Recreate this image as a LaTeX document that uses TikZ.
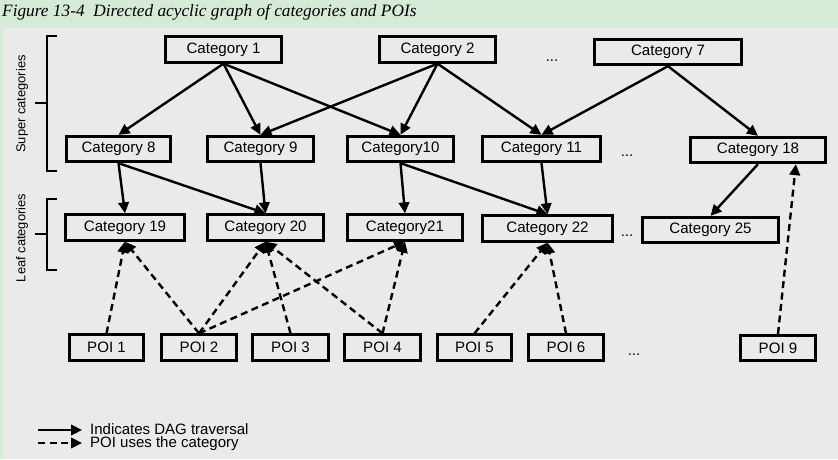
\documentclass[tikz,border=0pt]{standalone}
\usepackage{fontspec}
\setmainfont{Liberation Sans}
\newfontfamily\titlefont{Liberation Serif}
\usetikzlibrary{arrows.meta,calc}
\definecolor{bandgreen}{RGB}{213,234,215}
\definecolor{panelgrey}{RGB}{234,234,234}
\tikzset{
  catbox/.style={draw, line width=2.8pt, minimum height=25.5pt, inner sep=0pt,
    font=\fontsize{15.1}{18}\selectfont},
  dagarrow/.style={line width=2.4pt, -{Triangle[length=11pt,width=10.5pt]}},
  poiarrow/.style={dagarrow, dash pattern=on 7pt off 4.5pt},
  bracketline/.style={line width=2pt},
  sidelabel/.style={rotate=90, font=\fontsize{12.9}{15}\selectfont},
  dots/.style={font=\fontsize{15}{18}\selectfont},
  legendtext/.style={anchor=west, inner sep=0pt, text height=10pt, text depth=2pt,
    font=\fontsize{15}{16}\selectfont},
}
\begin{document}
\begin{tikzpicture}[x=1pt,y=-1pt]
        \useasboundingbox (0,0) rectangle (838,459);
        % Background of the figure
        \fill [bandgreen] (0,0) rectangle (838,459);%
        \fill [panelgrey] (3,28) rectangle (838,459);%
        \node [anchor=west, inner sep=0pt, font=\titlefont\itshape\fontsize{17.3}{20}\selectfont] (title) at (2,12.5) {Figure 13-4\enspace Directed acyclic graph of categories and POIs};%

        % Super categories row
        \node [catbox, minimum width=116pt] (cat1) at (223.5,49.5) {Category 1};%
        \node [catbox, minimum width=116pt] (cat2) at (437.5,49.5) {Category 2};%
        \node [dots] (dotsA) at (552,61) {...};%
        \node [catbox, minimum width=147pt] (cat7) at (668,52) {Category 7};%

        \node [catbox, minimum width=104pt] (cat8) at (118.5,149) {Category 8};%
        \node [catbox, minimum width=106pt] (cat9) at (260.5,149) {Category 9};%
        \node [catbox, minimum width=106pt] (cat10) at (400.5,149) {Category10};%
        \node [catbox, minimum width=118pt] (cat11) at (541.5,149) {Category 11};%
        \node [dots] (dotsB) at (627,155.5) {...};%
        \node [catbox, minimum width=135pt] (cat18) at (758,150) {Category 18};%

        % Leaf categories row
        \node [catbox, minimum width=119pt] (cat19) at (125,227.5) {Category 19};%
        \node [catbox, minimum width=116pt] (cat20) at (265.5,227.5) {Category 20};%
        \node [catbox, minimum width=115pt] (cat21) at (405,227.5) {Category21};%
        \node [catbox, minimum width=130pt] (cat22) at (547.5,228.5) {Category 22};%
        \node [dots] (dotsC) at (627,235.5) {...};%
        \node [catbox, minimum width=136pt] (cat25) at (710.5,230) {Category 25};%

        % POI row
        \node [catbox, minimum width=74pt] (poi1) at (106.5,347.5) {POI 1};%
        \node [catbox, minimum width=75pt] (poi2) at (199,347.5) {POI 2};%
        \node [catbox, minimum width=76pt] (poi3) at (290.5,347.5) {POI 3};%
        \node [catbox, minimum width=76pt] (poi4) at (382.5,347.5) {POI 4};%
        \node [catbox, minimum width=74pt] (poi5) at (474.5,347.5) {POI 5};%
        \node [catbox, minimum width=75pt] (poi6) at (566,347.5) {POI 6};%
        \node [dots] (dotsD) at (634,354.5) {...};%
        \node [catbox, minimum width=75pt] (poi9) at (778,348) {POI 9};%
        \coordinate (cat18in) at ($(cat18.south)!0.55!(cat18.south east)$);%

        % Drawing DAG traversal arrows
        \draw [dagarrow] (cat1.south) -- (cat8.north);%
        \draw [dagarrow] (cat1.south) -- (cat9.north);%
        \draw [dagarrow] (cat1.south) -- (cat10.north);%
        \draw [dagarrow] (cat2.south) -- (cat9.north);%
        \draw [dagarrow] (cat2.south) -- (cat10.north);%
        \draw [dagarrow] (cat2.south) -- (cat11.north);%
        \draw [dagarrow] (cat7.south) -- (cat11.north);%
        \draw [dagarrow] (cat7.south) -- (cat18.north);%
        \draw [dagarrow] (cat8.south) -- (cat19.north);%
        \draw [dagarrow] (cat8.south) -- (cat20.north);%
        \draw [dagarrow] (cat9.south) -- (cat20.north);%
        \draw [dagarrow] (cat10.south) -- (cat21.north);%
        \draw [dagarrow] (cat10.south) -- (cat22.north);%
        \draw [dagarrow] (cat11.south) -- (cat22.north);%
        \draw [dagarrow] (cat18.south) -- (cat25.north);%

        % Drawing POI usage arrows
        \draw [poiarrow] (poi1.north) -- (cat19.south);%
        \draw [poiarrow] (poi2.north) -- (cat19.south);%
        \draw [poiarrow] (poi2.north) -- (cat20.south);%
        \draw [poiarrow] (poi2.north) -- (cat21.south);%
        \draw [poiarrow] (poi3.north) -- (cat20.south);%
        \draw [poiarrow] (poi4.north) -- (cat20.south);%
        \draw [poiarrow] (poi4.north) -- (cat21.south);%
        \draw [poiarrow] (poi5.north) -- (cat22.south);%
        \draw [poiarrow] (poi6.north) -- (cat22.south);%
        \draw [poiarrow] (poi9.north) -- (cat18in);%

        % Drawing brackets of the category levels
        \draw [bracketline] (57,36) -- (47,36) -- (47,171) -- (57,171);%
        \draw [bracketline] (35,103) -- (47,103);%
        \node [sidelabel] (superlabel) at (22,104) {Super categories};%
        \draw [bracketline] (57,199) -- (47,199) -- (47,270) -- (57,270);%
        \draw [bracketline] (35,234) -- (47,234);%
        \node [sidelabel] (leaflabel) at (22,238) {Leaf categories};%

        % Legend
        \coordinate (legA) at (38,430);%
        \coordinate (legB) at (82,430);%
        \coordinate (legC) at (38,443);%
        \coordinate (legD) at (82,443);%
        \draw [dagarrow] (legA) -- (legB);%
        \draw [poiarrow] (legC) -- (legD);%
        \node [legendtext] (legtextA) at (90,430) {Indicates DAG traversal};%
        \node [legendtext] (legtextB) at (90,443.5) {POI uses the category};%
    \end{tikzpicture}
\end{document}
